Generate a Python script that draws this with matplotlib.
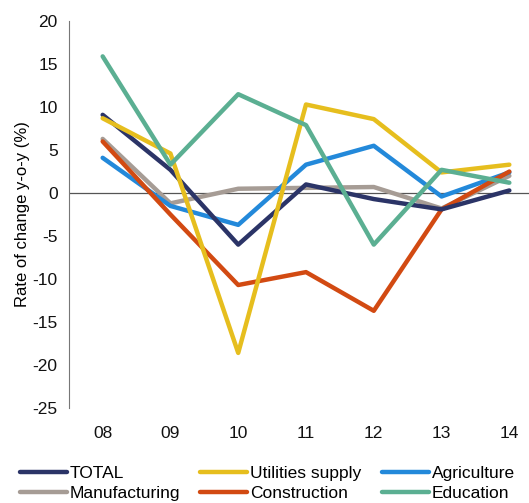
import matplotlib
matplotlib.use("Agg")
import matplotlib.pyplot as plt

plt.rcParams["font.family"] = ["Liberation Sans", "DejaVu Sans"]
plt.rcParams["axes.unicode_minus"] = False

years = ["08", "09", "10", "11", "12", "13", "14"]
total = [9.1, 2.7, -6.0, 1.0, -0.7, -1.9, 0.3]
utilities = [8.7, 4.6, -18.6, 10.3, 8.6, 2.4, 3.3]
agriculture = [4.1, -1.5, -3.7, 3.3, 5.5, -0.4, 2.4]
manufacturing = [6.3, -1.2, 0.5, 0.6, 0.7, -1.8, 2.0]
construction = [6.0, -2.5, -10.7, -9.2, -13.7, -1.9, 2.5]
education = [15.9, 3.3, 11.5, 7.9, -6.0, 2.7, 1.2]

series = [
    ("TOTAL", total, "#2B3467"),
    ("Manufacturing", manufacturing, "#A69C95"),
    ("Utilities supply", utilities, "#E6BE1E"),
    ("Construction", construction, "#D24A12"),
    ("Agriculture", agriculture, "#2389DA"),
    ("Education", education, "#5BAF92"),
]
draw_order = ["Manufacturing", "Agriculture", "Construction", "TOTAL", "Utilities supply", "Education"]

fs = 12.5
fig = plt.figure(figsize=(5.29, 5.03), dpi=100)
ax = fig.add_axes([0.130, 0.189, 0.87, 0.769])

x = list(range(len(years)))
handles = {}
for name in draw_order:
    vals, color = [(v, c) for n, v, c in series if n == name][0]
    (ln,) = ax.plot(x, vals, color=color, lw=3.2, solid_capstyle="round", label=name)
    handles[name] = ln

ax.axhline(0, color="#555555", lw=0.9, zorder=0)
ax.set_xlim(-0.5, 6.29)
ax.set_ylim(-25, 20)
ax.set_yticks(range(-25, 21, 5))
ax.set_xticks(x)
ax.set_xticklabels(years)
ax.tick_params(length=0, labelsize=fs, colors="#111111")
ax.tick_params(axis="x", pad=13)
ax.tick_params(axis="y", pad=8)
for s in ["top", "right", "bottom"]:
    ax.spines[s].set_visible(False)
ax.spines["left"].set_color("#777777")
ax.set_ylabel("Rate of change y-o-y (%)", fontsize=fs - 0.5, labelpad=2)

order = [n for n, _, _ in series]
fig.legend([handles[n] for n in order], order, loc="lower center",
           bbox_to_anchor=(0.505, -0.028), ncol=3, frameon=False, fontsize=fs,
           handlelength=2.7, handletextpad=0.15, columnspacing=1.2,
           labelspacing=0.3)

fig.savefig("out.png", dpi=100)
